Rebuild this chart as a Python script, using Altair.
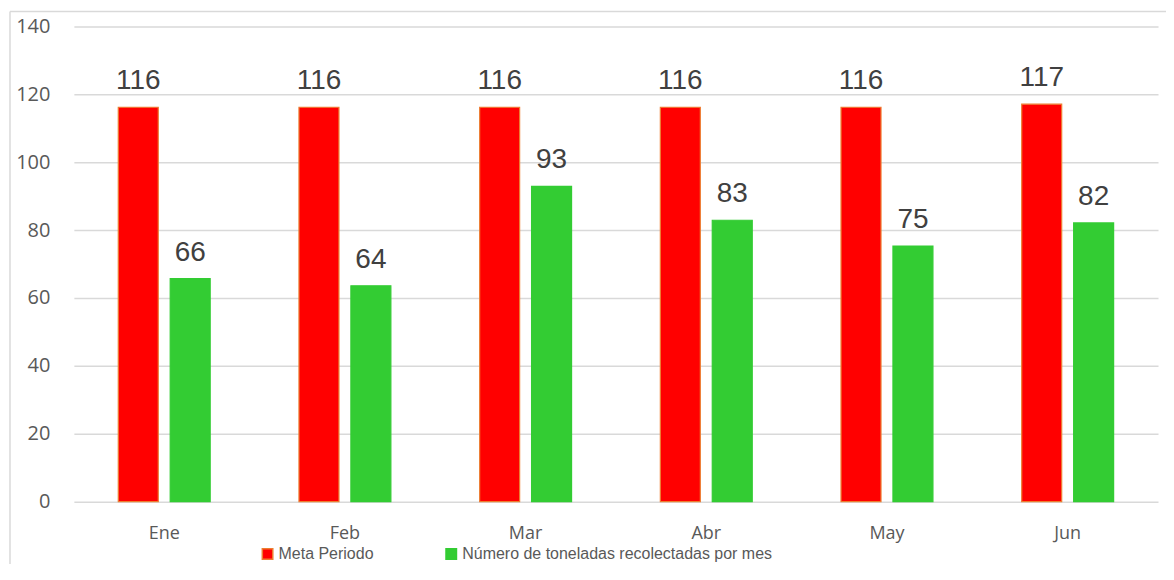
import altair as alt
import pandas as pd

months = ["Ene", "Feb", "Mar", "Abr", "May", "Jun"]
meta = [116.2, 116.2, 116.2, 116.2, 116.2, 117.1]
toneladas = [65.7, 63.6, 92.9, 82.9, 75.3, 82.1]
series_names = ["Meta Periodo", "Número de toneladas recolectadas por mes"]

rows = []
for m, a, b in zip(months, meta, toneladas):
    rows.append({"mes": m, "serie": series_names[0], "valor": a})
    rows.append({"mes": m, "serie": series_names[1], "valor": b})
df = pd.DataFrame(rows)
one = pd.DataFrame({"k": [0]})

LAB = "Liberation Sans, Arial, sans-serif"
AXF = "Open Sans, Noto Sans, sans-serif"

x_enc = alt.X("mes:N", sort=months, title=None,
              scale=alt.Scale(paddingInner=0, paddingOuter=0),
              axis=alt.Axis(labelAngle=0, labelFont=AXF, labelFontSize=18,
                            labelColor="#595959", labelPadding=23,
                            ticks=False, domain=False, grid=False))
xo_enc = alt.XOffset("serie:N", sort=series_names,
                     scale=alt.Scale(paddingInner=0.23, paddingOuter=0.855))
y_enc = alt.Y("valor:Q", title=None,
              scale=alt.Scale(domain=[0, 140], nice=False),
              axis=alt.Axis(values=[0, 20, 40, 60, 80, 100, 120, 140],
                            labelFont=AXF, labelFontSize=20, labelColor="#595959",
                            labelPadding=24, ticks=False, domain=False,
                            gridColor="#d9d9d9", gridWidth=1.5))

color = alt.Color("serie:N", sort=series_names,
                  scale=alt.Scale(domain=series_names, range=["#ff0000", "#33cc33"]),
                  legend=alt.Legend(title=None, orient="none", direction="horizontal",
                                    legendX=186, legendY=520,
                                    symbolType="square", symbolSize=110,
                                    symbolStrokeWidth=1.5,
                                    labelFont=LAB, labelFontSize=16,
                                    labelColor="#595959", labelLimit=500,
                                    columnPadding=68, labelOffset=3))
stroke = alt.Stroke("serie:N", sort=series_names,
                    scale=alt.Scale(domain=series_names, range=["#ed7d31", "#33cc33"]),
                    legend=None)

bars = alt.Chart(df).mark_bar(strokeWidth=1.2).encode(
    x=x_enc, xOffset=xo_enc, y=y_enc, color=color, stroke=stroke
)

labels = alt.Chart(df).mark_text(
    font=LAB, fontSize=28, color="#404040", baseline="alphabetic", dy=-18
).encode(
    x=alt.X("mes:N", sort=months),
    xOffset=alt.XOffset("serie:N", sort=series_names),
    y="valor:Q",
    text=alt.Text("valor:Q", format=".0f"),
)

frame_left = alt.Chart(one).mark_rule(color="#d9d9d9", strokeWidth=1.5).encode(
    x=alt.value(-64), y=alt.value(-15), y2=alt.value(560)
)
frame_top = alt.Chart(one).mark_rule(color="#d9d9d9", strokeWidth=1.5).encode(
    x=alt.value(-64), x2=alt.value(1094), y=alt.value(-15)
)

chart = alt.layer(bars, labels, frame_left, frame_top).properties(
    width=1086, height=476,
    autosize=alt.AutoSizeParams(type="none"),
    padding={"left": 66, "top": 18, "right": 8, "bottom": 62},
).configure_view(stroke=None)

chart.save("out.html", embed_options={"renderer": "svg", "actions": False})
